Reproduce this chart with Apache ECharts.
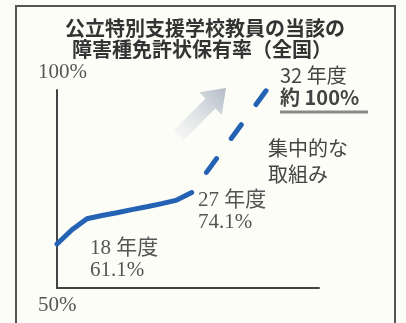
<!DOCTYPE html>
<html>
<head>
<meta charset="utf-8">
<script src="https://cdn.jsdelivr.net/npm/echarts@6/dist/echarts.min.js"></script>
<style>
  html, body { margin: 0; padding: 0; background: #fdfdf8; }
  #chart { width: 406px; height: 323px; }
</style>
</head>
<body>
<div id="chart"></div>
<script>
// 年度 (平成) and 免許状保有率 (%)
const years = [18, 19, 20, 21, 22, 23, 24, 25, 26, 27];
const rates = [61.1, 64.7, 67.5, 68.3, 69.0, 69.8, 70.5, 71.3, 72.2, 74.1];
// 目標: 32年度に約100%
const targetYears = [27, 32];
const targetRates = [74.1, 100];
// y axis ends
const yTicks = [50, 100];

const serif = "'Liberation Serif', 'Noto Sans CJK JP', serif";
const gothic = "'Noto Sans CJK JP', sans-serif";
const blue = '#2462b3';

const chart = echarts.init(document.getElementById('chart'), null, { renderer: 'canvas' });

function pair(xs, ys) { return xs.map((x, i) => [x, ys[i]]); }

function label(text, x, y, opt) {
  return Object.assign({
    type: 'text', x: x, y: y, silent: true,
    style: Object.assign({
      text: text, fill: '#555', fontSize: 21, fontFamily: serif,
      textAlign: 'left', textVerticalAlign: 'middle'
    }, opt || {})
  });
}

// up-right arrow hint next to the target line
function arrowPoints(tx, ty, headLen, headHalf, shaftHalf, shaftLen) {
  const ux = Math.SQRT1_2, uy = -Math.SQRT1_2;   // direction
  const nx = Math.SQRT1_2, ny = Math.SQRT1_2;    // normal
  const bx = tx - headLen * ux, by = ty - headLen * uy;
  const cx = bx - shaftLen * ux, cy = by - shaftLen * uy;
  return [
    [tx, ty],
    [bx + headHalf * nx, by + headHalf * ny],
    [bx + shaftHalf * nx, by + shaftHalf * ny],
    [cx + shaftHalf * nx, cy + shaftHalf * ny],
    [cx - shaftHalf * nx, cy - shaftHalf * ny],
    [bx - shaftHalf * nx, by - shaftHalf * ny],
    [bx - headHalf * nx, by - headHalf * ny]
  ];
}

chart.setOption({
  backgroundColor: '#fdfdf8',
  animation: false,
  grid: { left: 57, right: 87, top: 90, bottom: 31, containLabel: false },
  xAxis: {
    type: 'value', min: 18, max: 35.5,
    axisLine: { show: true, lineStyle: { color: '#444', width: 2 } },
    axisTick: { show: false }, axisLabel: { show: false }, splitLine: { show: false }
  },
  yAxis: {
    type: 'value', min: yTicks[0], max: yTicks[1], interval: yTicks[1] - yTicks[0],
    axisLine: { show: true, lineStyle: { color: '#444', width: 2 } },
    axisTick: { show: false }, splitLine: { show: false },
    axisLabel: {
      margin: 19, align: 'left', color: '#555', fontSize: 21, fontFamily: serif,
      lineHeight: 35,
      formatter: function (v) {
        if (v === yTicks[1]) return v + '%\n ';
        if (v === yTicks[0]) return ' \n' + v + '%';
        return '';
      }
    }
  },
  series: [
    {
      type: 'line', data: pair(years, rates), symbol: 'none', clip: false,
      lineStyle: { color: blue, width: 5, join: 'round', cap: 'round' }
    },
    {
      type: 'line', data: pair(targetYears, targetRates), symbol: 'none', clip: false,
      lineStyle: { color: blue, width: 5, type: [17, 25], dashOffset: 17, cap: 'round' }
    }
  ],
  graphic: [
    { type: 'rect', silent: true, shape: { x: 16, y: 6, width: 379, height: 322 },
      style: { fill: 'none', stroke: '#555', lineWidth: 2 } },
    { type: 'polygon', silent: true,
      shape: { points: arrowPoints(226, 88, 22, 16, 7, 45) },
      style: { fill: new echarts.graphic.LinearGradient(0, 1, 1, 0, [
        { offset: 0, color: 'rgba(228,232,236,0.25)' },
        { offset: 1, color: 'rgba(172,182,194,0.95)' }
      ]) } },
    label('公立特別支援学校教員の当該の', 205, 28,
      { fontFamily: gothic, fontSize: 20, fontWeight: 'bold', fill: '#333', textAlign: 'center' }),
    label('障害種免許状保有率（全国）', 202, 49,
      { fontFamily: gothic, fontSize: 20, fontWeight: 'bold', fill: '#333', textAlign: 'center' }),
    label('18 年度', 90, 248),
    label('61.1%', 90, 270),
    label('27 年度', 198, 200),
    label('74.1%', 198, 222),
    label('32 年度', 280, 75, { fontFamily: gothic, fontSize: 20, fill: '#444' }),
    label('約 100%', 280, 97, { fontFamily: gothic, fontSize: 20, fontWeight: 'bold', fill: '#444' }),
    { type: 'line', silent: true, shape: { x1: 280, y1: 112, x2: 368, y2: 112 },
      style: { stroke: '#8a8a8a', lineWidth: 3 } },
    label('集中的な', 268, 148, { fontFamily: gothic, fontSize: 20, fill: '#444' }),
    label('取組み', 268, 174, { fontFamily: gothic, fontSize: 20, fill: '#444' })
  ]
});
</script>
</body>
</html>
